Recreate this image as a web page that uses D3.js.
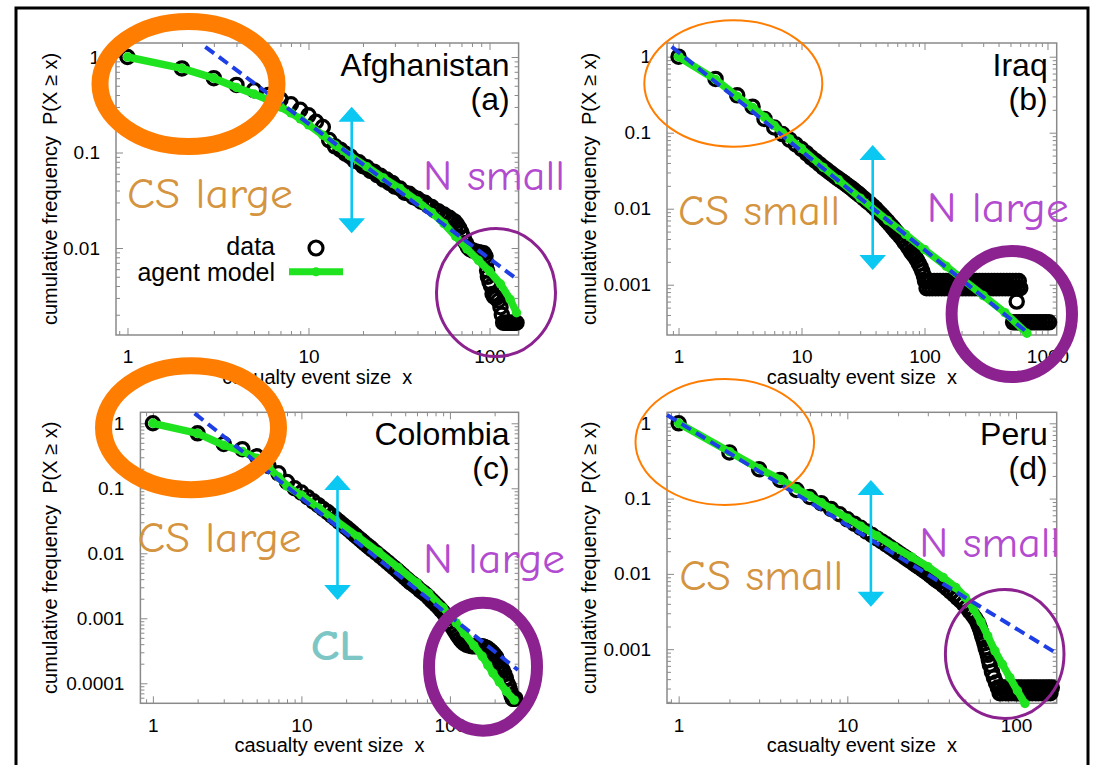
<!DOCTYPE html>
<html>
<head>
<meta charset="utf-8">
<script src="https://cdn.jsdelivr.net/npm/d3@7"></script>
<style>
html, body { margin: 0; padding: 0; background: #fff; }
svg { display: block; }
</style>
</head>
<body>
<svg id="fig" width="1093" height="765"></svg>
<script>
// ---------- Afghanistan (a) ----------
const afgDataX = [1,2,3,4,5,6,7,8,9,10,11,12,13,14,15,16,17,18,19,20,21,22,23,24,25,26,27,28,29,30,32,34,36,38,40,42,44,46,48,50,52,54,56,58,60,62,64,66,68,70,72,74,76,78,81,84,87,90,93,95,96,97,98,100,102,104,106,109,112,115,117,119,122,125,128,131,134,137,141];
const afgDataP = [1.0,0.76,0.60,0.51,0.45,0.40,0.36,0.32,0.28,0.245,0.21,0.185,0.135,0.116,0.107,0.097,0.091,0.082,0.079,0.072,0.070,0.064,0.063,0.058,0.057,0.052,0.052,0.048,0.048,0.044,0.042,0.038,0.037,0.034,0.0328,0.0305,0.0298,0.0276,0.0268,0.0247,0.0243,0.0228,0.0224,0.0211,0.0207,0.0195,0.0190,0.0177,0.0162,0.0145,0.0128,0.0113,0.0102,0.0097,0.0094,0.0092,0.0090,0.0089,0.0088,0.0082,0.0070,0.0058,0.0050,0.0044,0.0040,0.0033,0.0031,0.0030,0.0028,0.0024,0.0020,0.00165,0.00165,0.00165,0.00165,0.00165,0.00165,0.00165,0.00165];
const afgModelX = [1,2,3,4,5,6,7,8,9,10,12,14,17,21,26,32,40,48,56,65,75,87,100,115,130,141];
const afgModelP = [1.0,0.76,0.60,0.48,0.41,0.355,0.30,0.26,0.225,0.195,0.152,0.12,0.092,0.071,0.054,0.042,0.031,0.0235,0.018,0.0132,0.0098,0.0074,0.0057,0.0042,0.0029,0.0021];
const afgFitX = [2.69, 144.5];
const afgFitP = [1.28, 0.0046];

// ---------- Iraq (b) ----------
const iraqDataX = [1,2,3,4,5,6,7,8,9,10,11,12,13,14,15,16,17,18,19,20,21,22,23,24,25,26,27,28,29,30,32,34,36,38,40,42,44,46,48,50,52,54,56,58,60,63,66,69,72,75,78,81,84,87,90,93,96,99,
  101,107,113,120,127,134,142,150,159,168,178,188,199,211,223,236,250,264,280,296,313,331,351,371,393,416,440,466,493,522,552,584,
  104,110,116,123,130,138,146,155,164,173,183,194,205,217,230,243,257,272,288,305,322,341,361,382,404,428,453,479,507,537,568,600,
  562,
  525,555,587,621,657,695,735,778,823,870,920,973,1030];
const iraqDataP = [1.0,0.51,0.31,0.22,0.152,0.117,0.096,0.081,0.070,0.061,0.0535,0.0470,0.0425,0.0385,0.0350,0.0325,0.0300,0.0280,0.0262,0.0247,0.0234,0.0222,0.0210,0.0199,0.0190,0.0181,0.0172,0.0164,0.0157,0.0150,0.0137,0.0126,0.0117,0.0108,0.0100,0.0092,0.0085,0.0079,0.0073,0.0068,0.0063,0.0059,0.0055,0.0051,0.0048,0.0044,0.0040,0.0036,0.0033,0.0030,0.0027,0.0025,0.0023,0.0021,0.0019,0.0017,0.0015,0.0013,
  0.00112,0.00112,0.00112,0.00112,0.00112,0.00112,0.00112,0.00112,0.00112,0.00112,0.00112,0.00112,0.00112,0.00112,0.00112,0.00112,0.00112,0.00112,0.00112,0.00112,0.00112,0.00112,0.00112,0.00112,0.00112,0.00112,0.00112,0.00112,0.00112,0.00112,0.00112,0.00112,
  0.00090,0.00090,0.00090,0.00090,0.00090,0.00090,0.00090,0.00090,0.00090,0.00090,0.00090,0.00090,0.00090,0.00090,0.00090,0.00090,0.00090,0.00090,0.00090,0.00090,0.00090,0.00090,0.00090,0.00090,0.00090,0.00090,0.00090,0.00090,0.00090,0.00090,0.00090,0.00090,
  0.0006,
  0.00032,0.00032,0.00032,0.00032,0.00032,0.00032,0.00032,0.00032,0.00032,0.00032,0.00032,0.00032,0.00032];
const iraqModelX = [1,2,3,4,5,6,7,8,10,15,20,30,50,70,100,150,200,300,450,680];
const iraqModelP = [1.0,0.50,0.30,0.215,0.16,0.125,0.10,0.083,0.062,0.035,0.024,0.0138,0.0070,0.0046,0.0029,0.00175,0.00121,0.00072,0.00043,0.00023];
const iraqFitX = [0.88, 698];
const iraqFitP = [1.35, 0.00023];

// ---------- Colombia (c) ----------
const colDataX = [1,2,3,4,5,6,7,8,9,10,11,12,13,14,15,16,17,18,19,20,21,22,23,24,25,26,27,28,29,30,32,34,36,38,40,42,44,46,48,50,52,54,56,58,60,63,66,69,72,75,78,81,84,87,90,93,96,99,102,105,109,113,117,121,125,130,135,141,147,153,159,165,171,177,183,189,195,200,205,210,215,220,226,232,238,244,250,255,260,265,270,276];
const colDataP = [1.0,0.70,0.48,0.40,0.31,0.22,0.17,0.125,0.100,0.086,0.073,0.063,0.055,0.048,0.043,0.038,0.034,0.0305,0.0275,0.025,0.0228,0.0208,0.019,0.0175,0.0162,0.015,0.0139,0.0130,0.0122,0.0114,0.0101,0.0090,0.0081,0.0073,0.0066,0.0060,0.0055,0.0050,0.0046,0.0042,0.0039,0.0036,0.0034,0.0032,0.0030,0.0027,0.0025,0.0023,0.0021,0.0019,0.00175,0.0016,0.00148,0.00135,0.00124,0.00112,0.00100,0.00088,0.00078,0.00070,0.00061,0.00054,0.00048,0.00044,0.00041,0.00039,0.00038,0.00037,0.00037,0.00037,0.00037,0.00037,0.00036,0.00035,0.00033,0.00031,0.00029,0.00027,0.00025,0.00022,0.00019,0.00017,0.00016,0.00014,0.00012,0.000100,0.000089,0.000075,0.000065,0.000058,0.000058,0.000058];
const colModelX = [1,2,3,4,5,6,7,8,10,13,17,24,33,45,60,72,90,110,125,145,165,180,195,215,240,271];
const colModelP = [1.0,0.70,0.46,0.37,0.29,0.21,0.15,0.108,0.078,0.050,0.032,0.018,0.0105,0.0060,0.0035,0.0024,0.00145,0.00085,0.00059,0.00038,0.00026,0.00019,0.000143,0.000105,0.000075,0.000055];
const colFitX = [1.91, 287];
const colFitP = [1.42, 0.00016];

// ---------- Peru (d) ----------
const peruDataX = [1,2,3,4,5,6,7,8,9,10,11,12,13,14,15,16,17,18,19,20,21,22,23,24,25,26,27,28,29,30,31,32,33,34,35,37,39,41,43,45,47,49,51,53,55,57,59,60,61,62,63,64,65,66,67,68,69,70,72,74,76,
  78,81,85,88,92,96,100,104,108,113,118,123,128,133,139,145,151,157,163,
  80,83,87,90,94,98,102,106,111,115,120,125,131,136,142,148,154,160];
const peruDataP = [1.0,0.41,0.245,0.177,0.13,0.105,0.087,0.073,0.062,0.053,0.0465,0.0410,0.0365,0.0328,0.0296,0.0270,0.0247,0.0226,0.0208,0.0192,0.0178,0.0166,0.0155,0.0145,0.0136,0.0128,0.0121,0.0114,0.0108,0.0102,0.0096,0.0091,0.0086,0.0082,0.0078,0.0071,0.0064,0.0058,0.0053,0.0048,0.0044,0.0040,0.0036,0.0032,0.0029,0.0026,0.0023,0.0021,0.0019,0.0017,0.0015,0.00135,0.0012,0.00105,0.00095,0.00084,0.00072,0.00062,0.00050,0.00042,0.00036,
  0.00031,0.00031,0.00031,0.00031,0.00031,0.00031,0.00031,0.00031,0.00031,0.00031,0.00031,0.00031,0.00031,0.00031,0.00031,0.00031,0.00031,0.00031,0.00031,
  0.00026,0.00026,0.00026,0.00026,0.00026,0.00026,0.00026,0.00026,0.00026,0.00026,0.00026,0.00026,0.00026,0.00026,0.00026,0.00026,0.00026,0.00026];
const peruModelX = [1,2,3,4,5,6,7,8,10,12,15,19,24,30,37,44,50,56,62,68,75,83,92,102,113];
const peruModelP = [1.0,0.42,0.25,0.18,0.135,0.108,0.088,0.074,0.055,0.043,0.032,0.0228,0.0168,0.0125,0.0090,0.0066,0.0049,0.0034,0.0023,0.0015,0.00095,0.00063,0.00042,0.00028,0.00019];
const peruFitX = [0.853, 174];
const peruFitP = [1.29, 0.00088];

// ---------- tick values and labels ----------
const xTicks3 = [1, 10, 100];
const xTickLabels3 = ["1", "10", "100"];
const xTicks4 = [1, 10, 100, 1000];
const xTickLabels4 = ["1", "10", "100", "1000"];
const yTicksA = [1, 0.1, 0.01];
const yTickLabelsA = ["1", "0.1", "0.01"];
const yTicksB = [1, 0.1, 0.01, 0.001];
const yTickLabelsB = ["1", "0.1", "0.01", "0.001"];
const yTicksC = [1, 0.1, 0.01, 0.001, 0.0001];
const yTickLabelsC = ["1", "0.1", "0.01", "0.001", "0.0001"];

const xTitle = "casualty event size  x";
const yTitle = "cumulative frequency  P(X \u2265 x)";

// ---------- panel layout ----------
const panels = [
  { name: "Afghanistan", tag: "(a)", left: 116, right: 518.6, top: 43, bottom: 335,
    xDomain: [0.864, 144.8], yDomain: [0.001227, 1.402], yTitleX: 50,
    xTicks: xTicks3, xLabels: xTickLabels3, yTicks: yTicksA, yLabels: yTickLabelsA,
    dataX: afgDataX, dataP: afgDataP, modelX: afgModelX, modelP: afgModelP, fitX: afgFitX, fitP: afgFitP, legend: true },
  { name: "Iraq", tag: "(b)", left: 667, right: 1056.7, top: 43, bottom: 335,
    xDomain: [0.806, 1188], yDomain: [0.000218, 1.514], yTitleX: 589,
    xTicks: xTicks4, xLabels: xTickLabels4, yTicks: yTicksB, yLabels: yTickLabelsB,
    dataX: iraqDataX, dataP: iraqDataP, modelX: iraqModelX, modelP: iraqModelP, fitX: iraqFitX, fitP: iraqFitP },
  { name: "Colombia", tag: "(c)", left: 140.4, right: 518.6, top: 412.3, bottom: 703.3,
    xDomain: [0.824, 290], yDomain: [0.0000492, 1.476], yTitleX: 50,
    xTicks: xTicks3, xLabels: xTickLabels3, yTicks: yTicksC, yLabels: yTickLabelsC,
    dataX: colDataX, dataP: colDataP, modelX: colModelX, modelP: colModelP, fitX: colFitX, fitP: colFitP },
  { name: "Peru", tag: "(d)", left: 667, right: 1056.7, top: 412.3, bottom: 703.3,
    xDomain: [0.853, 174.3], yDomain: [0.000191, 1.40], yTitleX: 589,
    xTicks: xTicks3, xLabels: xTickLabels3, yTicks: yTicksB, yLabels: yTickLabelsB,
    dataX: peruDataX, dataP: peruDataP, modelX: peruModelX, modelP: peruModelP, fitX: peruFitX, fitP: peruFitP }
];

const FONT = "'Liberation Sans', Arial, Helvetica, sans-serif";
const HAND = "'Comic Sans MS', 'Comic Neue', Lato, sans-serif";
const GREEN = "#1fe31f";
const BLUE = "#1f3fe6";
const GRID = "#8a8a8a";

const svg = d3.select("#fig");
svg.append("rect").attr("width", 1093).attr("height", 765).attr("fill", "#fff");

const isDecade = v => Math.abs(Math.log10(v) - Math.round(Math.log10(v))) < 1e-6;

function styleAxis(sel, size) {
  sel.attr("font-family", FONT).attr("font-size", size);
  sel.select(".domain").remove();
  sel.selectAll(".tick line").attr("stroke", GRID).attr("stroke-width", 1);
  sel.selectAll(".tick text").attr("fill", "#000");
}

panels.forEach(p => {
  const x = d3.scaleLog().domain(p.xDomain).range([p.left, p.right]);
  const y = d3.scaleLog().domain(p.yDomain).range([p.bottom, p.top]);
  const g = svg.append("g");

  const xMinor = x.ticks().filter(v => !isDecade(v));
  const yMinor = y.ticks().filter(v => !isDecade(v));

  // tick marks on all four sides, pointing inward
  g.append("g").attr("transform", `translate(0,${p.bottom})`)
    .call(d3.axisBottom(x).tickValues(xMinor).tickSize(-4).tickFormat(""))
    .call(s => styleAxis(s, 19));
  g.append("g").attr("transform", `translate(0,${p.bottom})`)
    .call(d3.axisBottom(x).tickValues(p.xTicks).tickSize(-7).tickPadding(15)
      .tickFormat((d, i) => p.xLabels[i]))
    .call(s => styleAxis(s, 19));
  g.append("g").attr("transform", `translate(0,${p.top})`)
    .call(d3.axisTop(x).tickValues(xMinor).tickSize(-4).tickFormat(""))
    .call(s => styleAxis(s, 19));
  g.append("g").attr("transform", `translate(0,${p.top})`)
    .call(d3.axisTop(x).tickValues(p.xTicks).tickSize(-7).tickFormat(""))
    .call(s => styleAxis(s, 19));
  g.append("g").attr("transform", `translate(${p.left},0)`)
    .call(d3.axisLeft(y).tickValues(yMinor).tickSize(-4).tickFormat(""))
    .call(s => styleAxis(s, 19));
  g.append("g").attr("transform", `translate(${p.left},0)`)
    .call(d3.axisLeft(y).tickValues(p.yTicks).tickSize(-7).tickPadding(16)
      .tickFormat((d, i) => p.yLabels[i]))
    .call(s => styleAxis(s, 19));
  g.append("g").attr("transform", `translate(${p.right},0)`)
    .call(d3.axisRight(y).tickValues(yMinor).tickSize(-4).tickFormat(""))
    .call(s => styleAxis(s, 19));
  g.append("g").attr("transform", `translate(${p.right},0)`)
    .call(d3.axisRight(y).tickValues(p.yTicks).tickSize(-7).tickFormat(""))
    .call(s => styleAxis(s, 19));

  // plot frame
  g.append("rect")
    .attr("x", p.left).attr("y", p.top)
    .attr("width", p.right - p.left).attr("height", p.bottom - p.top)
    .attr("fill", "none").attr("stroke", GRID).attr("stroke-width", 1.5);

  // axis titles
  g.append("text")
    .attr("x", (p.left + p.right) / 2).attr("y", p.bottom + 48.5)
    .attr("text-anchor", "middle").attr("font-family", FONT).attr("font-size", 20)
    .attr("xml:space", "preserve").style("white-space", "pre")
    .text(xTitle);
  g.append("text")
    .attr("transform", `translate(${p.yTitleX},${(p.top + p.bottom) / 2}) rotate(-90)`)
    .attr("text-anchor", "middle").attr("dy", "0.35em")
    .attr("font-family", FONT).attr("font-size", 20)
    .attr("xml:space", "preserve").style("white-space", "pre")
    .text(yTitle);

  // empirical data
  g.append("g").selectAll("circle")
    .data(d3.zip(p.dataX, p.dataP))
    .join("circle")
    .attr("cx", d => x(d[0])).attr("cy", d => y(d[1])).attr("r", 6.6)
    .attr("fill", "none").attr("stroke", "#000").attr("stroke-width", 3.3);

  // agent model
  const model = d3.zip(p.modelX, p.modelP);
  const line = d3.line().x(d => x(d[0])).y(d => y(d[1]));
  g.append("path").datum(model).attr("d", line)
    .attr("fill", "none").attr("stroke", GREEN).attr("stroke-width", 7.5)
    .attr("stroke-linejoin", "round").attr("stroke-linecap", "round");
  g.append("g").selectAll("circle")
    .data(model).join("circle")
    .attr("cx", d => x(d[0])).attr("cy", d => y(d[1])).attr("r", 4.7)
    .attr("fill", GREEN);

  // power-law fit
  g.append("path").datum(d3.zip(p.fitX, p.fitP)).attr("d", line)
    .attr("fill", "none").attr("stroke", BLUE).attr("stroke-width", 4)
    .attr("stroke-dasharray", "11,6");

  // panel title
  const t = g.append("text").attr("font-family", FONT).attr("font-size", 32)
    .attr("text-anchor", "end").attr("fill", "#000");
  t.append("tspan").attr("x", p.right - 9).attr("y", p.top + 33).text(p.name);
  t.append("tspan").attr("x", p.right - 9).attr("y", p.top + 67).text(p.tag);

  if (p.legend) {
    const lg = g.append("g").attr("font-family", FONT).attr("font-size", 25);
    lg.append("text").attr("x", 275).attr("y", 255).attr("text-anchor", "end").text("data");
    lg.append("circle").attr("cx", 316).attr("cy", 248).attr("r", 7)
      .attr("fill", "none").attr("stroke", "#000").attr("stroke-width", 3.2);
    lg.append("text").attr("x", 275).attr("y", 281).attr("text-anchor", "end").text("agent model");
    lg.append("line").attr("x1", 289).attr("x2", 343).attr("y1", 271.7).attr("y2", 271.7)
      .attr("stroke", GREEN).attr("stroke-width", 7);
    lg.append("circle").attr("cx", 316).attr("cy", 271.7).attr("r", 4.5).attr("fill", GREEN);
  }
});

// ---------- hand-drawn annotations ----------
const ORANGE = "#ff7d00";
const PURPLE = "#8c2290";
const VIOLET = "#b24bcf";
const TAN = "#d49440";
const CYAN = "#0bc8f2";
const TEAL = "#7cc6c6";

const rings = [
  { cx: 188.5, cy: 84, rx: 88.5, ry: 62.5, w: 17, c: ORANGE },
  { cx: 733.3, cy: 83.5, rx: 89, ry: 63.2, w: 2, c: ORANGE },
  { cx: 191, cy: 427.7, rx: 87.5, ry: 62, w: 17, c: ORANGE },
  { cx: 724.8, cy: 442, rx: 89.3, ry: 63, w: 2, c: ORANGE },
  { cx: 496, cy: 292.5, rx: 59.5, ry: 64, w: 3, c: PURPLE },
  { cx: 1011.8, cy: 314, rx: 60.2, ry: 63, w: 12, c: PURPLE },
  { cx: 483, cy: 666.7, rx: 54, ry: 64, w: 12, c: PURPLE },
  { cx: 1004.7, cy: 654, rx: 59.3, ry: 64.5, w: 3, c: PURPLE }
];
const arrows = [
  { x: 351.7, y1: 106.7, y2: 233.3 },
  { x: 872.7, y1: 145, y2: 270 },
  { x: 337.5, y1: 475, y2: 600 },
  { x: 870.9, y1: 480, y2: 606.7 }
];
const notes = [
  { text: "CS large", x: 127, y: 208, w: 166, c: TAN },
  { text: "N small", x: 423, y: 190, w: 142, c: VIOLET },
  { text: "CS small", x: 678, y: 225, w: 162, c: TAN },
  { text: "N large", x: 926.7, y: 221.7, w: 142, c: VIOLET },
  { text: "CS large", x: 137.5, y: 551.7, w: 164, c: TAN },
  { text: "N large", x: 423, y: 573.3, w: 142, c: VIOLET },
  { text: "CL", x: 310.7, y: 660, w: 53, c: TEAL, bold: true },
  { text: "CS small", x: 679.3, y: 590, w: 164, c: TAN },
  { text: "N small", x: 919.2, y: 556.7, w: 141, c: VIOLET }
];

const ann = svg.append("g");
ann.selectAll("ellipse").data(rings).join("ellipse")
  .attr("cx", d => d.cx).attr("cy", d => d.cy).attr("rx", d => d.rx).attr("ry", d => d.ry)
  .attr("fill", "none").attr("stroke", d => d.c).attr("stroke-width", d => d.w);

const ag = ann.selectAll("g.arrow").data(arrows).join("g").attr("class", "arrow");
ag.append("line")
  .attr("x1", d => d.x).attr("x2", d => d.x)
  .attr("y1", d => d.y1 + 12).attr("y2", d => d.y2 - 12)
  .attr("stroke", CYAN).attr("stroke-width", 2.6);
ag.append("path")
  .attr("d", d => `M${d.x},${d.y1}L${d.x - 13.3},${d.y1 + 15}L${d.x + 13.3},${d.y1 + 15}Z` +
                  `M${d.x},${d.y2}L${d.x - 13.3},${d.y2 - 15}L${d.x + 13.3},${d.y2 - 15}Z`)
  .attr("fill", CYAN);

ann.selectAll("text").data(notes).join("text")
  .attr("x", d => d.x).attr("y", d => d.y)
  .attr("font-family", HAND).attr("font-size", 43)
  .attr("font-weight", d => d.bold ? 700 : 400)
  .attr("fill", d => d.c)
  .attr("textLength", d => d.w).attr("lengthAdjust", "spacingAndGlyphs")
  .text(d => d.text);

// outer frame
svg.append("rect").attr("x", 16).attr("y", 8).attr("width", 1072).attr("height", 770)
  .attr("fill", "none").attr("stroke", "#000").attr("stroke-width", 3);
</script>
</body>
</html>
